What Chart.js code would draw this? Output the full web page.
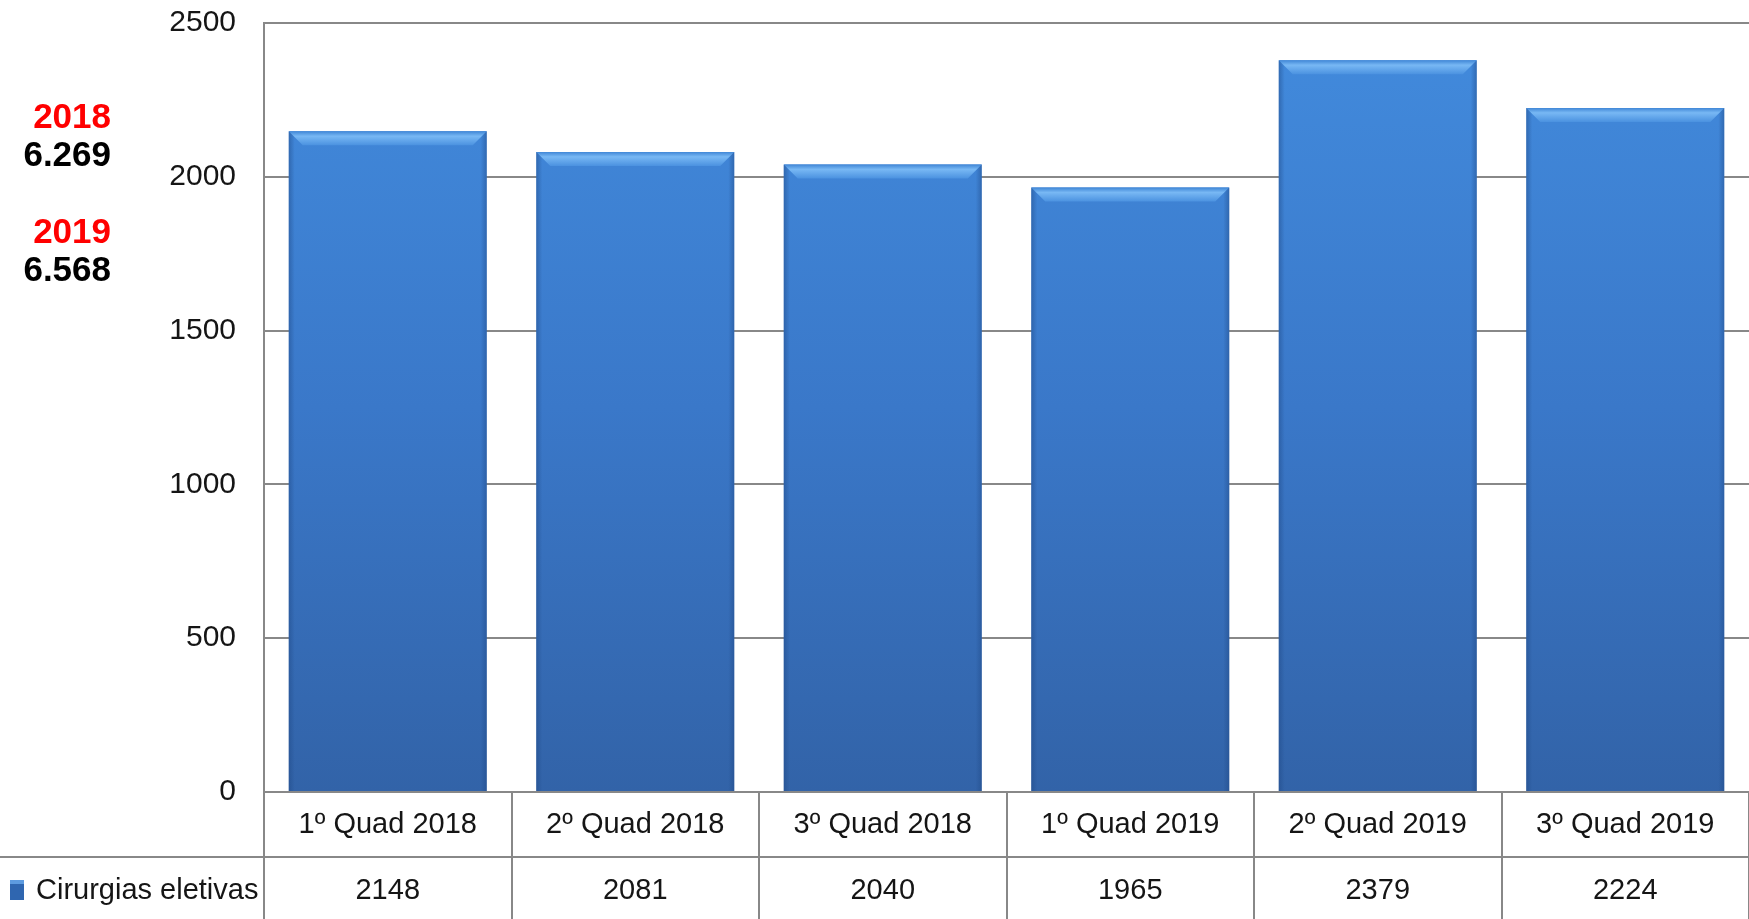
<!DOCTYPE html>
<html>
<head>
<meta charset="utf-8">
<script src="https://cdn.jsdelivr.net/npm/chart.js@4.4.1/dist/chart.umd.min.js"></script>
<style>
  html, body { margin: 0; padding: 0; background: #ffffff; }
  #wrap { width: 1749px; height: 919px; position: relative; }
</style>
</head>
<body>
<div id="wrap"><canvas id="c" width="1749" height="919"></canvas></div>
<script>
const categories = ['1º Quad 2018', '2º Quad 2018', '3º Quad 2018', '1º Quad 2019', '2º Quad 2019', '3º Quad 2019'];
const seriesName = 'Cirurgias eletivas';
const values = [2148, 2081, 2040, 1965, 2379, 2224];
const yTicks = [0, 500, 1000, 1500, 2000, 2500];
const yearLabels = ['2018', '2019'];
const yearTotals = ['6.269', '6.568'];

const FONT = "'Liberation Sans', Arial, sans-serif";
const GRID = '#888888';
const TEXT = '#151515';

function barFill(ctx) {
  const chart = ctx.chart;
  const area = chart.chartArea;
  if (!area) return '#3a7bd0';
  const g = chart.ctx.createLinearGradient(0, area.top, 0, area.bottom);
  g.addColorStop(0, '#428bdd');
  g.addColorStop(0.5, '#3a78c9');
  g.addColorStop(1, '#3263a8');
  return g;
}

const tablePlugin = {
  id: 'tablePlugin',
  afterDatasetsDraw(chart) {
    const ctx = chart.ctx;
    const meta = chart.getDatasetMeta(0);
    meta.data.forEach((bar) => {
      const p = bar.getProps(['x', 'y', 'width', 'base'], true);
      const l = p.x - p.width / 2, r = p.x + p.width / 2, t = p.y;
      const b = 14;
      ctx.save();
      const gt = ctx.createLinearGradient(0, t, 0, t + b);
      gt.addColorStop(0, '#3f86d6');
      gt.addColorStop(0.35, '#78b8f4');
      gt.addColorStop(1, '#4b92e0');
      ctx.fillStyle = gt;
      ctx.beginPath();
      ctx.moveTo(l, t); ctx.lineTo(r, t); ctx.lineTo(r - b, t + b); ctx.lineTo(l + b, t + b); ctx.closePath();
      ctx.fill();
      const gl = ctx.createLinearGradient(l, 0, l + 6, 0);
      gl.addColorStop(0, 'rgba(30,70,130,0.45)');
      gl.addColorStop(1, 'rgba(30,70,130,0)');
      ctx.fillStyle = gl;
      ctx.beginPath();
      ctx.moveTo(l, t); ctx.lineTo(l + 6, t + 6); ctx.lineTo(l + 6, p.base); ctx.lineTo(l, p.base); ctx.closePath();
      ctx.fill();
      const gr = ctx.createLinearGradient(r, 0, r - 6, 0);
      gr.addColorStop(0, 'rgba(30,70,130,0.45)');
      gr.addColorStop(1, 'rgba(30,70,130,0)');
      ctx.fillStyle = gr;
      ctx.beginPath();
      ctx.moveTo(r, t); ctx.lineTo(r - 6, t + 6); ctx.lineTo(r - 6, p.base); ctx.lineTo(r, p.base); ctx.closePath();
      ctx.fill();
      ctx.restore();
    });
  },
  afterDraw(chart) {
    const ctx = chart.ctx;
    const area = chart.chartArea;
    const xs = chart.scales.x;
    const H = chart.height;
    const midY = area.bottom + 65;
    ctx.save();
    ctx.strokeStyle = GRID;
    ctx.lineWidth = 2;
    ctx.beginPath();
    ctx.moveTo(0, midY); ctx.lineTo(chart.width, midY);
    ctx.stroke();
    for (let i = 0; i <= categories.length; i++) {
      const x = Math.round(xs.getPixelForValue(i - 0.5));
      ctx.beginPath();
      ctx.moveTo(x, i === 0 ? area.top : area.bottom); ctx.lineTo(x, H);
      ctx.stroke();
    }
    ctx.fillStyle = '#2f66b0';
    ctx.fillRect(10, midY + 23, 14, 20);
    ctx.fillStyle = '#5d9be0';
    ctx.fillRect(10, midY + 23, 14, 4);
    ctx.fillStyle = TEXT;
    ctx.font = '29px ' + FONT;
    ctx.textAlign = 'left';
    ctx.textBaseline = 'middle';
    ctx.fillText(seriesName, 36, midY + 34);
    ctx.textAlign = 'right';
    ctx.font = 'bold 35px "Liberation Sans", Arial, sans-serif';
    const ys = [[118, 156], [233, 271]];
    yearLabels.forEach((lab, i) => {
      ctx.fillStyle = '#ff0000';
      ctx.fillText(lab, 111, ys[i][0]);
      ctx.fillStyle = '#000000';
      ctx.fillText(yearTotals[i], 111, ys[i][1]);
    });
    ctx.restore();
  }
};

new Chart(document.getElementById('c'), {
  type: 'bar',
  data: {
    labels: categories,
    datasets: [{
      label: seriesName,
      data: values,
      backgroundColor: barFill,
      borderWidth: 0,
      barPercentage: 0.8,
      categoryPercentage: 1.0
    }]
  },
  options: {
    responsive: false,
    animation: false,
    devicePixelRatio: 1,
    layout: { padding: { top: 23, right: 0, left: 0, bottom: 0 } },
    plugins: { legend: { display: false }, tooltip: { enabled: false } },
    scales: {
      x: {
        grid: { display: false, drawTicks: false, tickLength: 0 },
        border: { display: false },
        ticks: {
          color: TEXT,
          font: { family: FONT, size: 29, lineHeight: '66px' },
          padding: 0,
          maxRotation: 0,
          callback: (v, i) => [categories[i], String(values[i])]
        },
        afterFit: (s) => { s.height = 127; }
      },
      y: {
        min: 0,
        max: 2500,
        afterBuildTicks: (s) => { s.ticks = yTicks.map(v => ({ value: v })); },
        grid: { color: GRID, lineWidth: 2, drawTicks: false },
        border: { color: GRID, width: 2 },
        ticks: {
          color: TEXT,
          font: { family: FONT, size: 30 },
          padding: 28,
          callback: (v) => String(v)
        },
        afterFit: (s) => { s.width = 264; s.paddingTop = 0; s.paddingBottom = 0; }
      }
    }
  },
  plugins: [tablePlugin]
});
</script>
</body>
</html>
